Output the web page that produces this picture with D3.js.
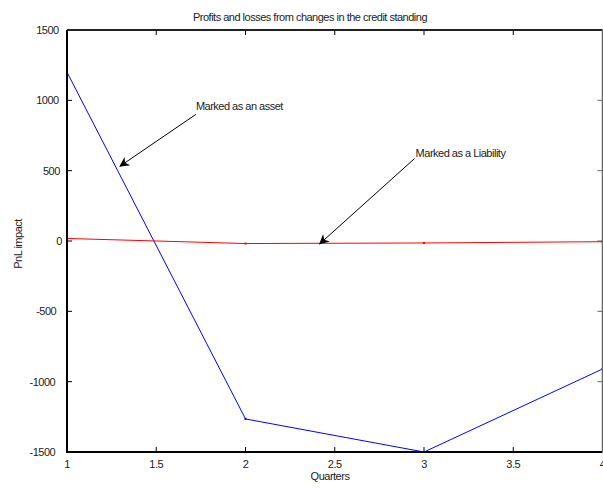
<!DOCTYPE html>
<html>
<head>
<meta charset="utf-8">
<script src="https://cdn.jsdelivr.net/npm/d3@7"></script>
<style>
    html, body { margin: 0; padding: 0; background: #fff; }
    svg { display: block; font-family: "Liberation Sans", Arial, sans-serif; }
    .lbl { font-size: 11px; letter-spacing: -0.5px; fill: #222; }
</style>
</head>
<body>
<svg id="chart"></svg>
<script>
// Profits and losses from changes in the credit standing

const WIDTH = 603;
const HEIGHT = 489;
const MARGIN = { top: 30, right: 0.5, bottom: 37, left: 67 };

const quarters = [1, 2, 3, 4];
const assetValues = [1200, -1265, -1500, -910];
const liabilityValues = [18, -18, -14, -5];

const xTicks = [1, 1.5, 2, 2.5, 3, 3.5, 4];
const yTicks = [-1500, -1000, -500, 0, 500, 1000, 1500];

// annotations in data coords: text anchor, arrow tail, arrow head
const annotations = [
    { text: 'Marked as an asset', tx: 1.722, ty: 932, from: [1.722, 900], to: [1.297, 532] },
    { text: 'Marked as a Liability', tx: 2.953, ty: 596, from: [2.947, 586], to: [2.416, -20] }
];

const svg = d3.select('#chart')
    .attr('width', WIDTH)
    .attr('height', HEIGHT);

const x = d3.scaleLinear()
    .domain([1, 4])
    .range([MARGIN.left, WIDTH - MARGIN.right]);

const y = d3.scaleLinear()
    .domain([-1500, 1500])
    .range([HEIGHT - MARGIN.bottom, MARGIN.top]);

const x0 = x.range()[0], x1 = x.range()[1];
const y0 = y.range()[1], y1 = y.range()[0];

svg.append('defs').append('marker')
    .attr('id', 'arrow')
    .attr('viewBox', '0 0 10 10')
    .attr('refX', 9)
    .attr('refY', 5)
    .attr('markerWidth', 14)
    .attr('markerHeight', 10)
    .attr('markerUnits', 'userSpaceOnUse')
    .attr('orient', 'auto')
    .append('path')
    .attr('d', 'M0,0 L10,5 L0,10 L3,5 Z')
    .attr('fill', '#000');

// Tick marks on all four sides (inward)
const tickLen = 5;
const gTicks = svg.append('g').attr('stroke', '#000').attr('stroke-width', 1);
xTicks.forEach(t => {
    gTicks.append('line').attr('x1', x(t)).attr('x2', x(t)).attr('y1', y1).attr('y2', y1 - tickLen);
    gTicks.append('line').attr('x1', x(t)).attr('x2', x(t)).attr('y1', y0).attr('y2', y0 + tickLen);
});
yTicks.forEach(t => {
    gTicks.append('line').attr('x1', x0).attr('x2', x0 + tickLen).attr('y1', y(t)).attr('y2', y(t));
    gTicks.append('line').attr('x1', x1).attr('x2', x1 - tickLen).attr('y1', y(t)).attr('y2', y(t))
        .attr('stroke', '#666');
});

// Tick labels
svg.append('g').selectAll('text')
    .data(xTicks)
    .join('text')
    .attr('class', 'lbl')
    .attr('x', d => x(d))
    .attr('y', y1 + 15.5)
    .attr('text-anchor', 'middle')
    .text(d => d);

// y labels placed by an estimated char width, like the original plotter did
svg.append('g').selectAll('text')
    .data(yTicks)
    .join('text')
    .attr('class', 'lbl')
    .attr('x', d => x0 - 4 - 6.7 * String(d).length)
    .attr('y', d => y(d) + 4)
    .text(d => d);

// Series
const line = d3.line()
    .x(d => x(d[0]))
    .y(d => y(d[1]));

const series = [
    { values: assetValues, color: '#0000ff' },
    { values: liabilityValues, color: '#ff0000' }
];

series.forEach(s => {
    const pts = quarters.map((q, i) => [q, s.values[i]]);
    svg.append('path')
        .datum(pts)
        .attr('d', line)
        .attr('fill', 'none')
        .attr('stroke', s.color)
        .attr('stroke-width', 1);
    svg.append('g').selectAll('rect')
        .data(pts)
        .join('rect')
        .attr('x', d => x(d[0]) - 1)
        .attr('y', d => y(d[1]) - 1)
        .attr('width', 2)
        .attr('height', 2)
        .attr('fill', s.color);
});

// Frame
svg.append('path')
    .attr('d', `M${x0},${y0} V${y1} H${x1}`)
    .attr('fill', 'none')
    .attr('stroke', '#000').attr('stroke-width', 2);
svg.append('path')
    .attr('d', `M${x0},${y0} H${x1}`)
    .attr('stroke', '#222').attr('stroke-width', 2);
svg.append('path')
    .attr('d', `M${x1},${y0} V${y1}`)
    .attr('stroke', '#666').attr('stroke-width', 1.5);

// Annotations
annotations.forEach(a => {
    svg.append('line')
        .attr('x1', x(a.from[0])).attr('y1', y(a.from[1]))
        .attr('x2', x(a.to[0])).attr('y2', y(a.to[1]))
        .attr('stroke', '#000')
        .attr('stroke-width', 1)
        .attr('marker-end', 'url(#arrow)');
    svg.append('text')
        .attr('class', 'lbl')
        .attr('x', x(a.tx))
        .attr('y', y(a.ty))
        .text(a.text);
});

// Titles
svg.append('text')
    .attr('class', 'lbl')
    .attr('x', 310)
    .attr('y', 21)
    .attr('text-anchor', 'middle')
    .text('Profits and losses from changes in the credit standing');

svg.append('text')
    .attr('class', 'lbl')
    .attr('x', 330)
    .attr('y', 480)
    .attr('text-anchor', 'middle')
    .text('Quarters');

svg.append('text')
    .attr('class', 'lbl')
    .attr('transform', `translate(22,244) rotate(-90)`)
    .attr('text-anchor', 'middle')
    .text('PnL impact');
</script>
</body>
</html>
